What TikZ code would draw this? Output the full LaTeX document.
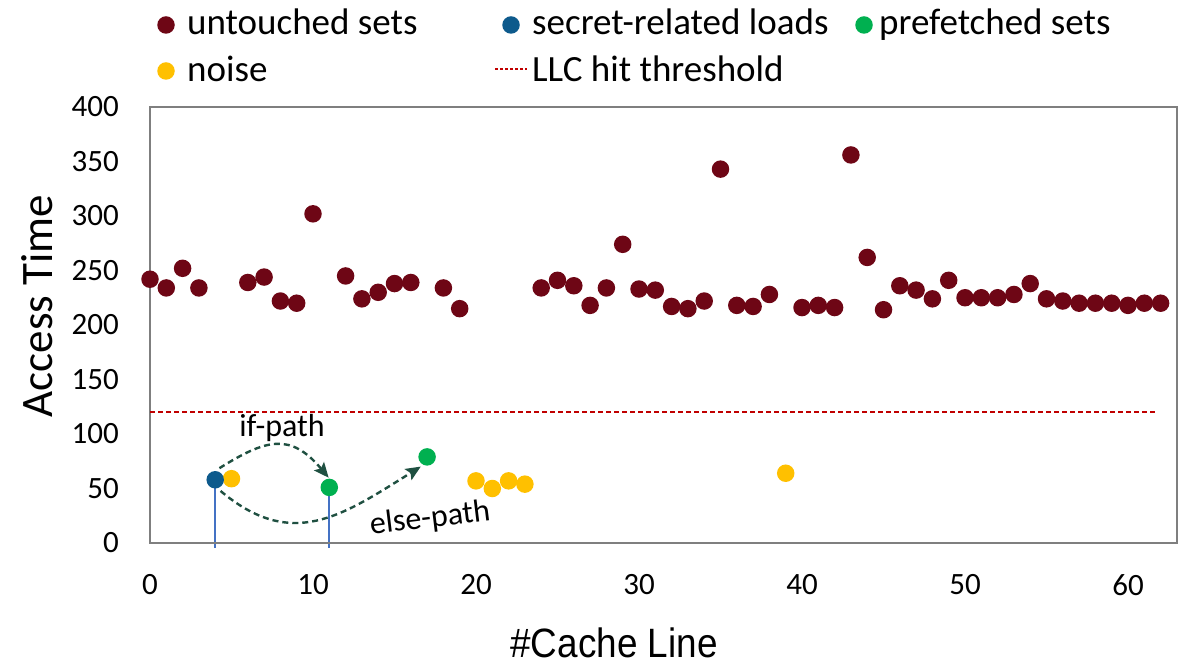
\documentclass[tikz,border=0pt]{standalone}
\usepackage{fontspec}
\setmainfont{Carlito}
\newfontfamily\arialfont{Liberation Sans}
\usetikzlibrary{arrows.meta,backgrounds}

\definecolor{untouched}{HTML}{6E0615}
\definecolor{secret}{HTML}{0D5A8C}
\definecolor{prefetch}{HTML}{00B050}
\definecolor{noisec}{HTML}{FFC000}
\definecolor{thresh}{HTML}{C00000}
\definecolor{pathc}{HTML}{1F5041}
\definecolor{vlinec}{HTML}{4472C4}
\definecolor{framec}{HTML}{7F7F7F}

\tikzset{
  dot/.style={circle, inner sep=0pt, minimum size=17.5pt},
  udot/.style={dot, fill=untouched},
  sdot/.style={dot, fill=secret},
  pdot/.style={dot, fill=prefetch},
  ndot/.style={dot, fill=noisec},
  legtext/.style={anchor=base west, inner sep=0pt, font=\fontsize{37}{40}\selectfont},
  ylab/.style={anchor=east, inner sep=0pt, xshift=-31pt, font=\fontsize{31}{33}\selectfont},
  xlab/.style={anchor=center, inner sep=0pt, yshift=-42pt, font=\fontsize{31}{33}\selectfont},
  pathlab/.style={inner sep=0pt, font=\fontsize{32}{34}\selectfont},
  frameline/.style={draw=framec, line width=1.3pt},
  threshline/.style={draw=thresh, line width=1.5pt, dash pattern=on 5pt off 3pt},
  vline/.style={draw=vlinec, line width=1.8pt},
  patharrow/.style={draw=pathc, line width=2.4pt, dash pattern=on 6pt off 4pt,
    -{Stealth[length=15pt, width=13pt, inset=3pt]}},
}

\begin{document}
\begin{tikzpicture}[x=1pt, y=1pt]
\useasboundingbox (0,0) rectangle (1182,664);

% legend
\node[udot] (lu) at (166,639) {};
\node[legtext] (lut) at (187,629) {untouched sets};
\node[sdot] (ls) at (511,639) {};
\node[legtext] (lst) at (532,629) {secret-related loads};
\node[pdot] (lp) at (864,639) {};
\node[legtext] (lpt) at (879,629) {prefetched sets};
\node[ndot] (ln) at (166,593) {};
\node[legtext] (lnt) at (187,582) {noise};
\coordinate (lta) at (495,595);
\coordinate (ltb) at (527,595);
\draw[draw=thresh, line width=1.3pt, dash pattern=on 3pt off 2pt] (lta) -- (ltb);
\node[legtext] (ltt) at (532,582) {LLC hit threshold};

% axis titles
\node[rotate=90, inner sep=0pt, font=\fontsize{45}{48}\selectfont] (ytitle) at (37,358) {Access Time};
\node[inner sep=0pt, xscale=0.9, font=\arialfont\fontsize{41}{44}\selectfont] (xtitle) at (614,21) {\#Cache Line};

% plot area: x in cache lines, y in access time
\begin{scope}[shift={(150pt,121pt)}, x=16.3pt, y=1.09pt]
  \draw[frameline] (0,0) rectangle (63,400);
  \foreach \v in {0,50,...,400}
    \node[ylab] (y\v) at (0,\v) {\v};
  \foreach \i in {0,10,...,60}
    \node[xlab] (x\i) at (\i,0) {\i};

  \draw[threshline] (0,120) -- (61.8,120);

  \foreach \i/\v in {0/242,1/234,2/252,3/234,6/239,7/244,8/222,9/220,10/302,
      12/245,13/224,14/230,15/238,16/239,18/234,19/215,
      24/234,25/241,26/236,27/218,28/234,29/274,30/233,31/232,32/217,33/215,
      34/222,35/343,36/218,37/217,38/228,40/216,41/218,42/216,43/356,44/262,
      45/214,46/236,47/232,48/224,49/241,50/225,51/225,52/225,53/228,54/238,
      55/224,56/222,57/220,58/220,59/220,60/218,61/220,62/220}
    \node[udot] (u\i) at (\i,\v) {};

  \foreach \i/\v in {5/59,20/57,21/50,22/57,23/54,39/64}
    \node[ndot] (n\i) at (\i,\v) {};

  \node[sdot] (s4) at (4,58) {};
  \node[pdot] (p11) at (11,51) {};
  \node[pdot] (p17) at (17,79) {};

  \coordinate (v4) at (4,-4.6);
  \coordinate (v11) at (11,-4.6);
  \begin{scope}[on background layer]
    \draw[vline] (s4.center) -- (v4);
    \draw[vline] (p11.center) -- (v11);
  \end{scope}

  \draw[patharrow, shorten <=5pt, shorten >=1pt]
    (s4.north) to[out=32, in=130, looseness=1.35] (p11.north);
  \draw[patharrow, shorten <=4pt, shorten >=3pt]
    (s4.-75) to[out=-40, in=-148, looseness=1.2] (p17.-115);
\end{scope}

\node[pathlab] (iflab) at (282,236) {if-path};
\node[pathlab, rotate=7] (elselab) at (430,145) {else-path};
\end{tikzpicture}
\end{document}
